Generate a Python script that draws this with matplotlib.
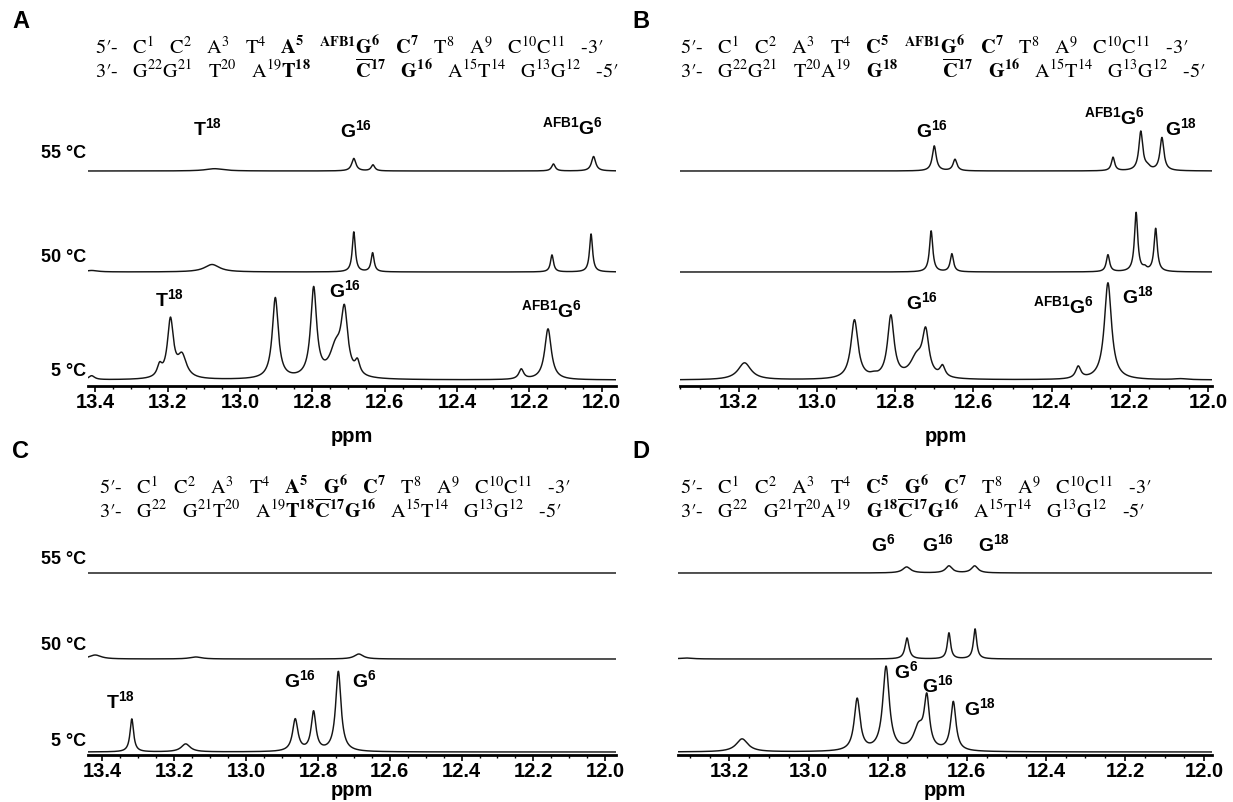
import numpy as np
import matplotlib
matplotlib.use("Agg")
import matplotlib.pyplot as plt
from matplotlib.ticker import MultipleLocator, FormatStrFormatter

plt.rcParams['font.family'] = ['Liberation Sans', 'DejaVu Sans']
plt.rcParams['mathtext.fontset'] = 'custom'
plt.rcParams['mathtext.rm'] = 'Liberation Sans'
plt.rcParams['mathtext.bf'] = 'Liberation Sans:bold'

W, H = 1233, 802

# peaks: (shift ppm, height px, half width ppm)
a_55 = [(13.07, 2.3, 0.03), (12.685, 12.5, 0.007), (12.632, 6, 0.006),
        (12.133, 7, 0.006), (12.022, 14.5, 0.007)]
a_50 = [(13.41, 1.5, 0.02), (13.077, 7.5, 0.025), (12.685, 40, 0.005),
        (12.633, 19, 0.005), (12.137, 17, 0.005), (12.029, 38, 0.005)]
a_5 = [(13.41, 4, 0.01), (13.222, 11, 0.008), (13.192, 58, 0.010),
       (13.160, 22, 0.015), (12.902, 81, 0.010), (12.796, 89, 0.010),
       (12.735, 28, 0.02), (12.711, 62, 0.011), (12.675, 13, 0.008),
       (12.222, 10, 0.008), (12.148, 51, 0.011)]

b_55 = [(12.700, 25, 0.006), (12.647, 11.5, 0.006), (12.243, 13.5, 0.005),
        (12.172, 39, 0.006), (12.155, 3, 0.008), (12.118, 33, 0.006)]
b_50 = [(12.708, 41, 0.005), (12.655, 18, 0.005), (12.256, 17, 0.005),
        (12.184, 59, 0.005), (12.162, 3, 0.006), (12.134, 43, 0.005)]
b_5 = [(13.185, 17, 0.02), (12.904, 59, 0.011), (12.855, 2, 0.01),
       (12.811, 62, 0.010), (12.745, 20, 0.02), (12.722, 43, 0.010),
       (12.679, 11, 0.008), (12.332, 12, 0.008), (12.256, 97, 0.011),
       (12.07, 1, 0.02)]

c_55 = []
c_50 = [(13.42, 4, 0.02), (13.14, 2, 0.02), (12.686, 5, 0.015)]
c_5 = [(13.318, 33, 0.006), (13.168, 8, 0.015), (12.863, 32, 0.009),
       (12.812, 39, 0.008), (12.743, 80, 0.009)]

d_55 = [(12.752, 6, 0.012), (12.645, 7, 0.010), (12.580, 7, 0.010)]
d_50 = [(13.31, 1, 0.02), (12.751, 21, 0.006), (12.645, 26, 0.005),
        (12.579, 30, 0.005)]
d_5 = [(13.168, 13, 0.018), (12.877, 52, 0.009), (12.804, 84, 0.010),
       (12.722, 22, 0.015), (12.701, 50, 0.008), (12.634, 49, 0.008)]

temps = ['55 °C', '50 °C', '5 °C']

T18 = r'$\mathbf{T^{18}}$'
G16 = r'$\mathbf{G^{16}}$'
G18 = r'$\mathbf{G^{18}}$'
G6 = r'$\mathbf{G^{6}}$'
AG6 = r'$\mathbf{{}^{AFB1}G^{6}}$'

# peak labels: (text, ppm, px above axis)
a_labels = [(T18, 13.09, 258), (G16, 12.68, 256), (AG6, 12.08, 259),
            (T18, 13.196, 87), (G16, 12.71, 96), (AG6, 12.14, 76)]
b_labels = [(G16, 12.705, 256), (AG6, 12.24, 269), (G18, 12.07, 258),
            (G16, 12.73, 84), (AG6, 12.37, 80), (G18, 12.18, 90)]
c_labels = [(T18, 13.349, 54), (G16, 12.849, 75), (G6, 12.67, 75)]
d_labels = [(G6, 12.81, 211), (G16, 12.672, 211), (G18, 12.53, 211),
            (G6, 12.753, 84), (G16, 12.672, 70), (G18, 12.567, 47)]

sp = '   '
hdr_a = [sp.join(["5′-", "C$^1$", "C$^2$", "A$^3$", "T$^4$", r"$\mathbf{A^5}$",
                  r"${}^{\mathbf{AFB1}}\mathbf{G^6}$", r"$\mathbf{C^7}$", "T$^8$",
                  "A$^9$", "C$^{10}$C$^{11}$", "-3′"]),
         sp.join(["3′-", "G$^{22}$G$^{21}$", "T$^{20}$",
                  r"A$^{19}\mathbf{T^{18}}$" + "         " +
                  r"$\overline{\mathbf{C}}^{\mathbf{17}}$",
                  r"$\mathbf{G^{16}}$", "A$^{15}$T$^{14}$", "G$^{13}$G$^{12}$", "-5′"])]
hdr_b = [sp.join(["5′-", "C$^1$", "C$^2$", "A$^3$", "T$^4$", r"$\mathbf{C^5}$",
                  r"${}^{\mathbf{AFB1}}\mathbf{G^6}$", r"$\mathbf{C^7}$", "T$^8$",
                  "A$^9$", "C$^{10}$C$^{11}$", "-3′"]),
         sp.join(["3′-", "G$^{22}$G$^{21}$", "T$^{20}$A$^{19}$",
                  r"$\mathbf{G^{18}}$" + "         " +
                  r"$\overline{\mathbf{C}}^{\mathbf{17}}$",
                  r"$\mathbf{G^{16}}$", "A$^{15}$T$^{14}$", "G$^{13}$G$^{12}$", "-5′"])]
hdr_c = [sp.join(["5′-", "C$^1$", "C$^2$", "A$^3$", "T$^4$", r"$\mathbf{A^5}$",
                  r"$\mathbf{G^6}$", r"$\mathbf{C^7}$", "T$^8$", "A$^9$",
                  "C$^{10}$C$^{11}$", "-3′"]),
         sp.join(["3′-", "G$^{22}$", "G$^{21}$T$^{20}$",
                  r"A$^{19}\mathbf{T^{18}}\overline{\mathbf{C}}^{\mathbf{17}}\mathbf{G^{16}}$",
                  "A$^{15}$T$^{14}$", "G$^{13}$G$^{12}$", "-5′"])]
hdr_d = [sp.join(["5′-", "C$^1$", "C$^2$", "A$^3$", "T$^4$", r"$\mathbf{C^5}$",
                  r"$\mathbf{G^6}$", r"$\mathbf{C^7}$", "T$^8$", "A$^9$",
                  "C$^{10}$C$^{11}$", "-3′"]),
         sp.join(["3′-", "G$^{22}$", "G$^{21}$T$^{20}$A$^{19}$",
                  r"$\mathbf{G^{18}}\overline{\mathbf{C}}^{\mathbf{17}}\mathbf{G^{16}}$",
                  "A$^{15}$T$^{14}$", "G$^{13}$G$^{12}$", "-5′"])]

top = dict(axis_y=386, ah=285, offs=[215, 114, 6], toffs=[232, 129, 15],
           labelpad=11, hy=47)
bot = dict(axis_y=755, ah=235, offs=[182, 96, 3], toffs=[196, 109, 13],
           labelpad=0, hy=487)

panels = [
    ('A', [a_55, a_50, a_5], a_labels, hdr_a, 88, 616, (13.42, 11.96), True, top, (12, 22), 95),
    ('B', [b_55, b_50, b_5], b_labels, hdr_b, 680, 1212, (13.35, 11.99), False, top, (632, 22), 680),
    ('C', [c_55, c_50, c_5], c_labels, hdr_c, 88, 616, (13.44, 11.97), True, bot, (12, 452), 99),
    ('D', [d_55, d_50, d_5], d_labels, hdr_d, 678, 1212, (13.33, 11.98), False, bot, (632, 452), 680),
]


def spectrum(x, peaks):
    y = np.zeros_like(x)
    for c, h, w in peaks:
        y += h / (1 + ((x - c) / w) ** 2)
    return y


fig = plt.figure(figsize=(W / 100, H / 100), dpi=100)

for (letter, spectra, labels, hdr, left, right, xlim, show_t, g,
     lpos, hx) in panels:
    axis_y, ah = g['axis_y'], g['ah']
    ax = fig.add_axes([left / W, 1 - axis_y / H, (right - left) / W, ah / H])
    x = np.linspace(xlim[0], xlim[1], 4000)
    for peaks, off in zip(spectra, g['offs']):
        ax.plot(x, off + spectrum(x, peaks), color='#151515', lw=1.05)
    ax.set_xlim(*xlim)
    ax.set_ylim(0, ah)
    for s in ['top', 'left', 'right']:
        ax.spines[s].set_visible(False)
    ax.spines['bottom'].set_linewidth(2.0)
    ax.set_yticks([])
    ax.xaxis.set_major_locator(MultipleLocator(0.2))
    ax.xaxis.set_minor_locator(MultipleLocator(0.05))
    ax.xaxis.set_major_formatter(FormatStrFormatter('%.1f'))
    ax.tick_params(axis='x', which='major', direction='out', length=4,
                   width=1.2, pad=1.0, labelsize=14.5)
    ax.tick_params(axis='x', which='minor', direction='out', length=2.5,
                   width=1.0)
    for t in ax.get_xticklabels():
        t.set_fontweight('bold')
    ax.set_xlabel('ppm', fontsize=14.5, fontweight='bold',
                  labelpad=g['labelpad'])
    ax.patch.set_alpha(0)

    for txt, px, py in labels:
        ax.text(px, py, txt, fontsize=14, ha='center', va='center',
                clip_on=False)

    if show_t:
        for t, off in zip(temps, g['toffs']):
            fig.text(86 / W, 1 - (axis_y - off) / H, t, fontsize=13,
                     fontweight='bold', ha='right', va='center')

    fig.text(lpos[0] / W, 1 - lpos[1] / H, letter, fontsize=17,
             fontweight='bold', ha='left', va='center')
    for i, line in enumerate(hdr):
        fig.text(hx / W, 1 - (g['hy'] + 23 * i) / H, line, fontsize=14.6,
                 family=['STIXGeneral', 'DejaVu Serif'],
                 math_fontfamily='stix', ha='left', va='center')

fig.savefig('out.png', dpi=100)
